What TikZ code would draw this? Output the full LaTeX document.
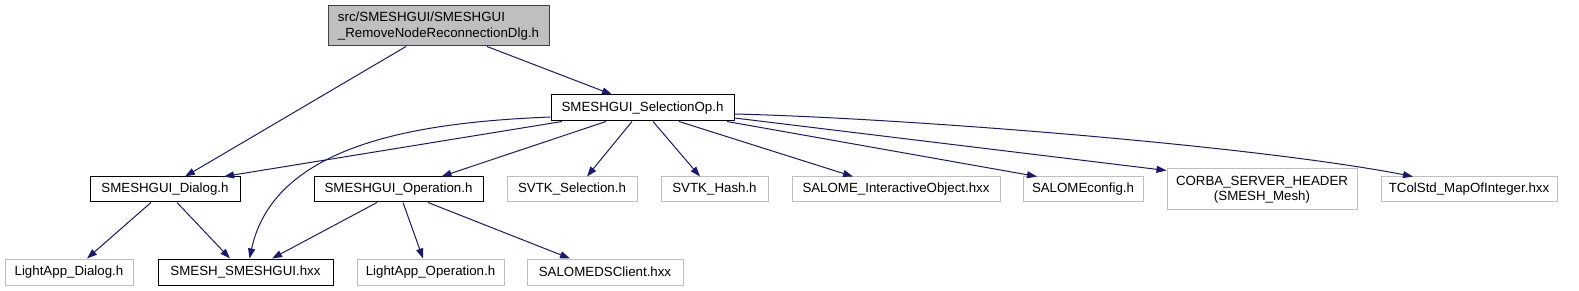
\documentclass[tikz,border=0pt]{standalone}
\usepackage{fontspec}
\setmainfont{Liberation Sans}
\usetikzlibrary{arrows.meta}
\definecolor{edgeblue}{HTML}{191970}
\definecolor{lightgrayb}{HTML}{BFBFBF}
\definecolor{rootborder}{HTML}{404040}
\begin{document}
\begin{tikzpicture}[x=1pt,y=-1pt,
  every node/.style={font=\fontsize{13.3}{15.5}\selectfont, inner sep=0pt, align=center},
  box/.style={draw=black, line width=1pt, minimum height=25pt},
  gbox/.style={draw=lightgrayb, line width=1pt, minimum height=25pt},
  rootbox/.style={draw=rootborder, fill=lightgrayb, line width=1pt, minimum height=40pt, minimum width=221pt, align=left},
  dep/.style={draw=edgeblue, line width=1pt, -{Triangle[length=10pt,width=7pt]}, edgeblue}
]
\fill[white] (0,0) rectangle (1579,291);
\useasboundingbox (0,0) rectangle (1579,291);

\node[rootbox] (root) at (438.5,26) {src/SMESHGUI/SMESHGUI\\\_RemoveNodeReconnectionDlg.h};
\node[box, minimum width=183pt, minimum height=26pt] (selop) at (642.5,108) {SMESHGUI\_SelectionOp.h};
\node[box, minimum width=150pt] (dialog) at (165,189.5) {SMESHGUI\_Dialog.h};
\node[box, minimum width=169pt] (oper) at (398.5,189.5) {SMESHGUI\_Operation.h};
\node[gbox, minimum width=130pt] (svtksel) at (572,189.5) {SVTK\_Selection.h};
\node[gbox, minimum width=107pt] (svtkhash) at (714.5,189.5) {SVTK\_Hash.h};
\node[gbox, minimum width=208pt] (salio) at (896,189.5) {SALOME\_InteractiveObject.hxx};
\node[gbox, minimum width=120pt] (salconf) at (1083,189.5) {SALOMEconfig.h};
\node[gbox, minimum width=190pt, minimum height=41pt] (corba) at (1262,189.5) {CORBA\_SERVER\_HEADER\\(SMESH\_Mesh)};
\node[gbox, minimum width=176pt] (tcol) at (1469,189.5) {TColStd\_MapOfInteger.hxx};
\node[gbox, minimum width=128pt, minimum height=26pt] (lad) at (69,272) {LightApp\_Dialog.h};
\node[box, minimum width=175pt, minimum height=26pt] (smesh) at (245.5,272) {SMESH\_SMESHGUI.hxx};
\node[gbox, minimum width=147pt, minimum height=26pt] (lao) at (430.5,272) {LightApp\_Operation.h};
\node[gbox, minimum width=156pt, minimum height=26pt] (salds) at (605,272) {SALOMEDSClient.hxx};

\draw[dep] ([xshift=-32.5pt]root.south) -- ([xshift=20pt]dialog.north);
\draw[dep] ([xshift=48.5pt]root.south) -- ([xshift=-30.5pt]selop.north);
\draw[dep] ([xshift=-80.5pt]selop.south) -- ([xshift=59pt]dialog.north);
\draw[dep] ([yshift=-9pt]selop.west) .. controls (430,122) and (275,140) .. ([xshift=4pt]smesh.north);
\draw[dep] ([xshift=-36.5pt]selop.south) -- ([xshift=43pt]oper.north);
\draw[dep] ([xshift=-10.5pt]selop.south) -- ([xshift=15pt]svtksel.north);
\draw[dep] ([xshift=10.5pt]selop.south) -- ([xshift=-14.5pt]svtkhash.north);
\draw[dep] ([xshift=36.5pt]selop.south) -- ([xshift=-43pt]salio.north);
\draw[dep] ([xshift=84.5pt]selop.south) -- ([xshift=-46pt]salconf.north);
\draw[dep] ([yshift=-10pt]selop.east) -- ([yshift=-2pt]corba.north west);
\draw[dep] ([yshift=-6pt]selop.east) .. controls (900,118) and (1250,145) .. ([xshift=-56pt]tcol.north);
\draw[dep] ([xshift=-14pt]dialog.south) -- ([xshift=18pt]lad.north);
\draw[dep] ([xshift=12pt]dialog.south) -- ([xshift=-15.5pt]smesh.north);
\draw[dep] ([xshift=-21.5pt]oper.south) -- ([xshift=26.5pt]smesh.north);
\draw[dep] ([xshift=4.5pt]oper.south) -- ([xshift=-7.5pt]lao.north);
\draw[dep] ([xshift=29.5pt]oper.south) -- ([xshift=-35pt]salds.north);
\end{tikzpicture}
\end{document}
